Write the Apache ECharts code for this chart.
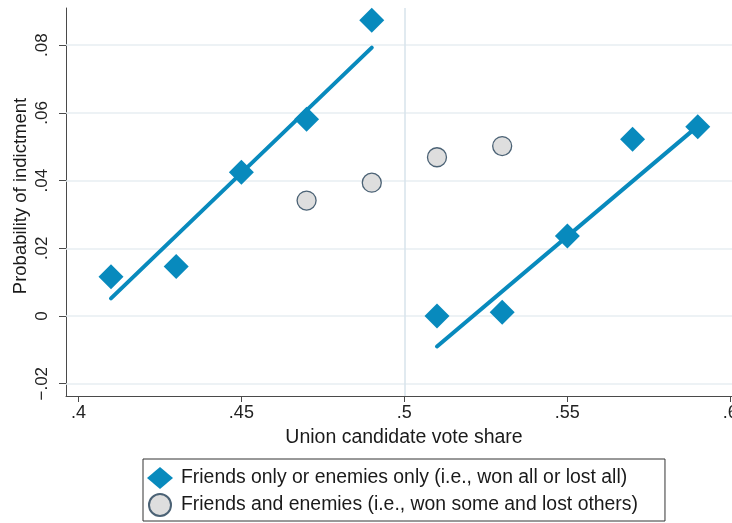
<!DOCTYPE html>
<html>
<head>
<meta charset="utf-8">
<title>Probability of indictment by union candidate vote share</title>
<script src="https://cdn.jsdelivr.net/npm/echarts@6/dist/echarts.min.js"></script>
<style>
  html, body { margin: 0; padding: 0; background: #ffffff; }
  #chart { width: 732px; height: 523px; }
</style>
</head>
<body>
<div id="chart"></div>
<script>
// Axis ticks and their printed labels
const xTicks = [0.4, 0.45, 0.5, 0.55, 0.6];
const xTickLabels = ['.4', '.45', '.5', '.55', '.6'];
const yTicks = [-0.02, 0, 0.02, 0.04, 0.06, 0.08];
const yTickLabels = ['\u2212.02', '0', '.02', '.04', '.06', '.08'];

// Cut-off between losing and winning
const cutoff = [0.5];

// Binned means: races where the union had only friends or only enemies
const singleSideShare = [0.41, 0.43, 0.45, 0.47, 0.49, 0.51, 0.53, 0.55, 0.57, 0.59];
const singleSideProb = [0.0116, 0.0146, 0.0425, 0.0581, 0.0874, 0.0000, 0.0011, 0.0236, 0.0522, 0.0559];

// Binned means: races with both friends and enemies
const mixedShare = [0.47, 0.49, 0.51, 0.53];
const mixedProb = [0.0341, 0.0394, 0.0469, 0.0502];

// Linear fits on each side of the cut-off
const fitLeftShare = [0.41, 0.49];
const fitLeftProb = [0.0052, 0.0793];
const fitRightShare = [0.51, 0.59];
const fitRightProb = [-0.0090, 0.0561];

const seriesNames = [
  'Friends only or enemies only (i.e., won all or lost all)',
  'Friends and enemies (i.e., won some and lost others)'
];

const blue = '#088abd';
const font = "'Liberation Sans', Arial, Helvetica, sans-serif";

function zip(xs, ys) { return xs.map((x, i) => [x, ys[i]]); }
function labelFor(ticks, labels) {
  return function (v) {
    for (let i = 0; i < ticks.length; i++) {
      if (Math.abs(ticks[i] - v) < 1e-9) return labels[i];
    }
    return '';
  };
}

const chart = echarts.init(document.getElementById('chart'), null, { renderer: 'canvas' });

chart.setOption({
  animation: false,
  backgroundColor: '#ffffff',
  textStyle: { fontFamily: font },
  grid: { left: 66, top: 8, right: 0, bottom: 127, containLabel: false, outerBoundsMode: 'none' },
  xAxis: {
    type: 'value',
    min: 0.3962,
    max: 0.6005,
    axisLine: { show: true, onZero: false, lineStyle: { color: '#4a4a4a', width: 1 } },
    axisTick: { show: true, length: 6, customValues: xTicks, lineStyle: { color: '#4a4a4a', width: 1 } },
    axisLabel: {
      customValues: xTicks,
      formatter: labelFor(xTicks, xTickLabels),
      fontSize: 18, color: '#222', fontFamily: font, margin: 8, hideOverlap: false
    },
    splitLine: { show: false }
  },
  yAxis: {
    type: 'value',
    min: -0.02363,
    max: 0.09099,
    axisLine: { show: true, onZero: false, lineStyle: { color: '#4a4a4a', width: 1 } },
    axisTick: { show: true, length: 7, customValues: yTicks, lineStyle: { color: '#4a4a4a', width: 1 } },
    axisLabel: {
      customValues: yTicks,
      formatter: labelFor(yTicks, yTickLabels),
      rotate: 90, fontSize: 17, color: '#222', fontFamily: font, margin: 15
    },
    splitLine: { show: false }
  },
  legend: {
    orient: 'vertical',
    left: 143, top: 459,
    height: 60,
    padding: [8, 27, 4, 4],
    itemGap: 4,
    itemWidth: 26,
    itemHeight: 22,
    borderColor: '#333333',
    borderWidth: 1,
    backgroundColor: '#ffffff',
    textStyle: { fontSize: 19.4, color: '#1a1a1a', fontFamily: font, padding: [0, 0, 0, 3] },
    data: seriesNames
  },
  graphic: [
    {
      type: 'text', x: 404, y: 438,
      style: { text: 'Union candidate vote share', font: '19.5px ' + font, fill: '#1a1a1a', align: 'center', verticalAlign: 'middle' }
    },
    {
      type: 'text', rotation: Math.PI / 2, x: 21, y: 196,
      style: { text: 'Probability of indictment', font: '18.5px ' + font, fill: '#1a1a1a', align: 'center', verticalAlign: 'middle' }
    }
  ],
  series: [
    {
      // reference lines: horizontal grid and the cut-off, kept beneath the marks
      type: 'line', data: [], z: 1, silent: true,
      markLine: {
        z: 1,
        silent: true, symbol: 'none', label: { show: false }, animation: false,
        data: yTicks.map(v => ({ yAxis: v, lineStyle: { color: '#e7eef2', width: 1.5, type: 'solid' } }))
          .concat(cutoff.map(v => ({ xAxis: v, lineStyle: { color: '#d7e3eb', width: 1.5, type: 'solid' } })))
      }
    },
    {
      type: 'line', data: zip(fitLeftShare, fitLeftProb), z: 3, showSymbol: false, silent: true,
      lineStyle: { color: blue, width: 4, cap: 'round' }
    },
    {
      type: 'line', data: zip(fitRightShare, fitRightProb), z: 3, showSymbol: false, silent: true,
      lineStyle: { color: blue, width: 4, cap: 'round' }
    },
    {
      name: seriesNames[0], type: 'scatter', symbol: 'diamond', symbolSize: 25, z: 4,
      itemStyle: { color: blue, opacity: 1 },
      data: zip(singleSideShare, singleSideProb)
    },
    {
      name: seriesNames[1], type: 'scatter', symbol: 'circle', symbolSize: 19, z: 4,
      itemStyle: { color: '#dedede', borderColor: '#4b6275', borderWidth: 1.3, opacity: 1 },
      data: zip(mixedShare, mixedProb)
    }
  ]
});
</script>
</body>
</html>
